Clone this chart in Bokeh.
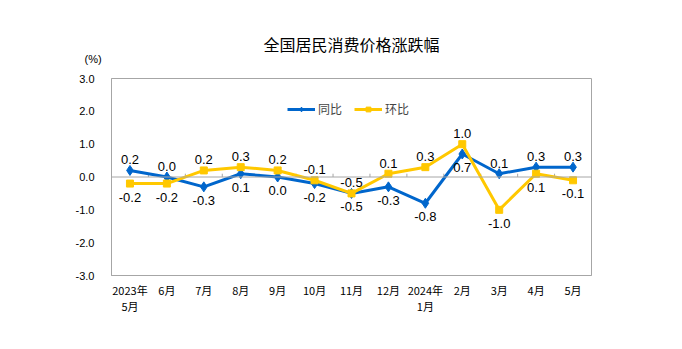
from bokeh.plotting import figure
from bokeh.models import Range1d, FixedTicker, Span, Legend, Title, PrintfTickFormatter
from bokeh.core.properties import value
from bokeh.embed import file_html
from bokeh.resources import INLINE

months = ["2023年\n5月", "6月", "7月", "8月", "9月", "10月", "11月", "12月",
          "2024年\n1月", "2月", "3月", "4月", "5月"]
yoy = [0.2, 0.0, -0.3, 0.1, 0.0, -0.2, -0.5, -0.3, -0.8, 0.7, 0.1, 0.3, 0.3]   # 同比
mom = [-0.2, -0.2, 0.2, 0.3, 0.2, -0.1, -0.5, 0.1, 0.3, 1.0, -1.0, 0.1, -0.1]  # 环比
y_ticks = [-3, -2, -1, 0, 1, 2, 3]

BLUE = "#0066CC"
YELLOW = "#FFC800"
GREY = "#A6A6A6"
NUM_FONT = "Liberation Sans"
CJK_FONT = "Noto Sans CJK SC"

xs = list(range(len(months)))

p = figure(width=682, height=349, output_backend="svg", toolbar_location=None,
           x_range=Range1d(-0.5, len(months) - 0.5), y_range=Range1d(-3, 3),
           min_border_left=111, min_border_right=91, min_border_top=78,
           min_border_bottom=74, title=None)
p.background_fill_color = "white"
p.border_fill_color = "white"
p.outline_line_color = GREY
p.xgrid.visible = False
p.ygrid.visible = False

# unit label (closest to frame) and main title
unit = Title(text="(%)", align="left", offset=-27, standoff=28,
             text_font=NUM_FONT, text_font_size="11px", text_font_style="normal",
             text_color="#000000")
p.add_layout(unit, "above")
main = Title(text="全国居民消费价格涨跌幅", align="center", offset=5, standoff=-38,
             text_font=CJK_FONT, text_font_size="16px", text_font_style="normal",
             text_color="#000000")
p.add_layout(main, "above")

# axes
p.yaxis.ticker = FixedTicker(ticks=y_ticks)
p.yaxis.formatter = PrintfTickFormatter(format="%.1f")
p.yaxis.major_tick_line_color = None
p.yaxis.minor_tick_line_color = None
p.yaxis.axis_line_color = GREY
p.yaxis.major_label_text_font = NUM_FONT
p.yaxis.major_label_text_font_size = "11px"
p.yaxis.major_label_text_color = "#000000"
p.yaxis.major_label_standoff = 11

p.xaxis.ticker = FixedTicker(ticks=xs)
p.xaxis.major_label_overrides = {i: m for i, m in enumerate(months)}
p.xaxis.major_tick_line_color = None
p.xaxis.minor_tick_line_color = None
p.xaxis.axis_line_color = GREY
p.xaxis.major_label_text_font = CJK_FONT
p.xaxis.major_label_text_font_size = "11px"
p.xaxis.major_label_text_color = "#000000"
p.xaxis.major_label_text_line_height = 1.0
p.xaxis.major_label_standoff = 0

# zero line with category boundary ticks
p.add_layout(Span(location=0, dimension="width", line_color=GREY, line_width=1))
bounds = [i + 0.5 for i in xs[:-1]]
p.segment(x0=bounds, y0=[0] * len(bounds), x1=bounds, y1=[0.1] * len(bounds),
          line_color=GREY, line_width=1)

# series
r1l = p.line(xs, yoy, line_color=BLUE, line_width=3)
r1m = p.scatter(xs, yoy, marker="diamond", size=10, fill_color=BLUE, line_color=BLUE)
r2l = p.line(xs, mom, line_color=YELLOW, line_width=3)
r2m = p.scatter(xs, mom, marker="square", size=7, fill_color=YELLOW, line_color=YELLOW)

# data labels: higher value above, lower value below
def fmt(v):
    return f"{v:.1f}"

up_x, up_y, up_t, dn_x, dn_y, dn_t = [], [], [], [], [], []
for i, (a, b) in enumerate(zip(yoy, mom)):
    hi, lo = (a, b) if a >= b else (b, a)
    up_x.append(i); up_y.append(hi); up_t.append(fmt(hi))
    dn_x.append(i); dn_y.append(lo); dn_t.append(fmt(lo))

p.text(x=up_x, y=up_y, text=up_t, text_align="center", text_baseline="bottom",
       y_offset=-6, text_font=value(NUM_FONT), text_font_size="13px", text_color="#000000")
p.text(x=dn_x, y=dn_y, text=dn_t, text_align="center", text_baseline="top",
       y_offset=9, text_font=value(NUM_FONT), text_font_size="13px", text_color="#000000")

legend = Legend(items=[("同比", [r1l, r1m]), ("环比", [r2l, r2m])],
                orientation="horizontal", location=(176, 158),
                border_line_color=None, background_fill_alpha=0,
                label_text_font=CJK_FONT, label_text_font_size="12px",
                glyph_width=28, glyph_height=12, spacing=12, padding=0, margin=0,
                label_standoff=3)
p.add_layout(legend, "center")

open("out.html", "w").write(file_html(p, INLINE))
